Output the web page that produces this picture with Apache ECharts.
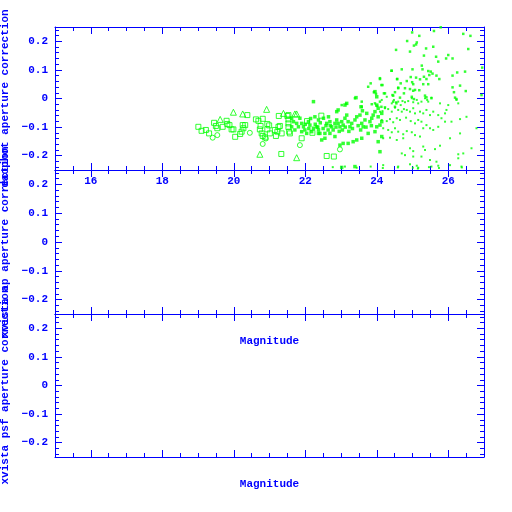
<!DOCTYPE html>
<html><head><meta charset="utf-8">
<script src="https://cdn.jsdelivr.net/npm/echarts@6/dist/echarts.min.js"></script>
<style>html,body{margin:0;padding:0;background:#fff}#c{width:512px;height:512px}</style>
</head><body><div id="c"></div>
<script>
// ---- tick values ----
const xMajorTicks = [16, 18, 20, 22, 24, 26];
const xMinorTicks = [15.5, 16.5, 17, 17.5, 18.5, 19, 19.5, 20.5, 21, 21.5, 22.5, 23, 23.5, 24.5, 25, 25.5, 26.5];
const yMajorTicks = [-0.2, -0.1, 0, 0.1, 0.2];
const yMinorTicks = [-0.24, -0.22, -0.18, -0.16, -0.14, -0.12, -0.08, -0.06, -0.04, -0.02, 0.02, 0.04, 0.06, 0.08, 0.12, 0.14, 0.16, 0.18, 0.22, 0.24];
const yNames = ['daophot aperture correction', 'xvista ap aperture correction', 'xvista psf aperture correction'];
const xName = 'Magnitude';

// ---- data: [magnitude, correction] ----
const openSquares = [[19.01,-0.099],[19.10,-0.113],[19.22,-0.110],[19.31,-0.122],[19.45,-0.085],[19.50,-0.096],[19.54,-0.104],[19.69,-0.099],[19.80,-0.078],[19.82,-0.089],[19.88,-0.093],[19.94,-0.108],[19.99,-0.108],[20.04,-0.134],[20.18,-0.124],[20.22,-0.116],[20.27,-0.104],[20.25,-0.093],[20.32,-0.093],[20.38,-0.058],[20.62,-0.073],[20.69,-0.078],[20.81,-0.071],[20.75,-0.096],[20.73,-0.108],[20.78,-0.122],[20.81,-0.131],[20.87,-0.136],[20.94,-0.089],[20.99,-0.094],[21.01,-0.122],[20.94,-0.108],[21.18,-0.131],[21.22,-0.116],[21.15,-0.110],[21.25,-0.099],[21.29,-0.096],[21.26,-0.061],[21.34,-0.122],[21.33,-0.194],[21.50,-0.061],[21.53,-0.073],[21.53,-0.087],[21.55,-0.116],[21.53,-0.058],[21.57,-0.122],[21.53,-0.100],[21.90,-0.139],[22.60,-0.201],[22.05,-0.079],[22.20,-0.120],[22.45,-0.060],[22.80,-0.203]];
const openTriangles = [[19.62,-0.073],[19.99,-0.048],[20.25,-0.054],[20.92,-0.038],[20.73,-0.195],[21.39,-0.052],[21.71,-0.054],[21.76,-0.054],[21.76,-0.207]];
const openCircles = [[19.41,-0.137],[19.54,-0.128],[20.81,-0.159],[21.85,-0.163],[22.97,-0.178],[20.45,-0.120],[20.90,-0.140]];
const midSquares = [[21.62,-0.069],[21.67,-0.081],[21.76,-0.087],[21.85,-0.069],[21.90,-0.087],[21.95,-0.099],[21.99,-0.110],[22.09,-0.081],[22.13,-0.093],[22.18,-0.116],[22.23,-0.104],[22.32,-0.099],[22.37,-0.110],[22.41,-0.122],[22.46,-0.145],[22.55,-0.139],[22.27,-0.064],[22.37,-0.075],[22.51,-0.069],[22.65,-0.064],[22.60,-0.087],[22.69,-0.081],[22.74,-0.099],[22.83,-0.087],[22.88,-0.075],[22.92,-0.087],[22.97,-0.099],[23.02,-0.081],[23.06,-0.093],[23.11,-0.069],[23.16,-0.058],[23.20,-0.081],[23.25,-0.099],[23.30,-0.087],[23.39,-0.075],[23.44,-0.064],[23.53,-0.058],[23.58,-0.087],[23.62,-0.099],[23.67,-0.075],[23.72,-0.052],[23.81,-0.081],[23.86,-0.069],[23.90,-0.058],[23.95,-0.046],[24.04,-0.064],[24.14,-0.052],[24.00,-0.099],[24.09,-0.093],[24.14,-0.081],[23.95,-0.116],[23.76,-0.122],[23.58,-0.139],[23.44,-0.145],[23.34,-0.151],[23.20,-0.157],[23.06,-0.157],[22.97,-0.163],[22.83,-0.133],[22.69,-0.122],[22.55,-0.122],[22.37,-0.122],[22.04,-0.122],[21.90,-0.116],[21.81,-0.099],[21.71,-0.110],[21.62,-0.099],[22.23,-0.011],[23.42,0.003],[23.11,-0.023],[23.16,-0.017],[22.92,-0.040],[22.88,-0.046],[23.56,-0.029],[23.60,-0.043],[24.00,-0.023],[24.04,-0.034],[23.95,0.024],[24.00,0.006],[24.04,-0.151],[24.14,-0.133],[24.09,-0.186],[23.02,-0.241],[23.39,-0.238],[22.00,-0.090],[22.10,-0.105],[22.15,-0.070],[22.28,-0.090],[22.35,-0.100],[22.42,-0.085],[22.50,-0.105],[22.58,-0.095],[22.64,-0.110],[22.70,-0.095],[22.78,-0.110],[22.86,-0.100],[22.95,-0.115],[23.04,-0.110],[23.12,-0.100],[23.22,-0.115],[23.32,-0.105],[23.48,-0.095],[23.55,-0.110],[23.70,-0.100],[23.85,-0.095]];
const faintSquares = [[24.99,0.231],[25.19,0.219],[25.60,0.236],[25.79,0.249],[26.42,0.226],[26.62,0.219],[24.85,0.201],[25.12,0.196],[25.10,0.189],[25.04,0.185],[24.54,0.170],[24.93,0.164],[25.38,0.175],[25.58,0.181],[25.32,0.150],[25.66,0.146],[26.00,0.152],[26.12,0.140],[25.94,0.140],[26.56,0.173],[25.72,0.129],[25.26,0.115],[24.42,0.097],[24.70,0.102],[25.00,0.102],[25.28,0.102],[25.44,0.096],[25.51,0.094],[25.56,0.087],[25.47,0.082],[25.67,0.080],[25.75,0.068],[26.12,0.080],[26.25,0.091],[26.47,0.094],[26.95,0.108],[24.09,0.071],[24.57,0.068],[24.84,0.061],[24.95,0.075],[25.10,0.073],[25.21,0.067],[25.32,0.076],[25.39,0.068],[24.16,0.047],[24.67,0.053],[24.99,0.057],[25.02,0.050],[25.30,0.050],[25.44,0.050],[24.60,0.038],[24.79,0.036],[24.93,0.033],[25.07,0.030],[25.19,0.029],[26.12,0.039],[26.33,0.045],[26.49,0.026],[26.16,0.022],[24.23,0.018],[24.51,0.022],[24.76,0.018],[25.02,0.027],[24.46,0.010],[24.65,0.003],[24.98,0.006],[25.04,-0.002],[25.35,0.010],[25.39,0.004],[25.53,0.001],[26.19,0.003],[26.23,-0.002],[26.93,0.012],[24.41,0.097],[24.09,0.068],[24.13,0.047],[23.83,0.053],[23.76,0.041],[24.57,0.068],[23.92,0.022],[23.98,0.016],[24.20,0.018],[24.60,0.036],[24.44,0.012],[23.39,0.001],[23.58,-0.011],[23.14,-0.019],[23.02,-0.023],[23.86,-0.020],[23.95,-0.017],[24.09,-0.011],[24.46,-0.011],[24.55,-0.017],[24.51,-0.029],[24.01,-0.026],[24.13,-0.029],[24.23,-0.031],[23.58,-0.029]];
const faintDots = [[24.14,-0.005],[24.28,0.006],[24.42,-0.017],[24.48,-0.005],[24.54,-0.013],[24.60,-0.011],[24.67,-0.023],[24.72,-0.009],[24.79,-0.013],[24.88,-0.009],[24.98,0.001],[25.02,-0.013],[25.12,-0.005],[25.16,-0.017],[25.25,-0.011],[25.35,0.001],[25.41,-0.005],[25.44,-0.011],[25.53,0.003],[25.77,-0.017],[26.00,-0.023],[25.95,-0.040],[26.23,-0.005],[26.28,-0.017],[25.91,-0.052],[25.81,-0.069],[25.72,-0.058],[26.33,-0.072],[26.51,-0.064],[26.09,-0.081],[25.91,-0.081],[24.09,-0.046],[24.16,-0.044],[24.23,-0.034],[24.32,-0.037],[24.42,-0.046],[24.51,-0.032],[24.60,-0.040],[24.70,-0.046],[24.76,-0.037],[24.84,-0.040],[24.93,-0.046],[25.02,-0.034],[25.07,-0.052],[25.21,-0.046],[25.30,-0.052],[25.39,-0.040],[25.49,-0.058],[25.58,-0.046],[24.14,-0.075],[24.28,-0.079],[24.37,-0.072],[24.46,-0.083],[24.56,-0.069],[24.65,-0.075],[24.82,-0.067],[24.95,-0.079],[25.07,-0.087],[25.16,-0.075],[25.25,-0.081],[25.39,-0.093],[25.49,-0.104],[25.30,-0.104],[25.58,-0.110],[25.72,-0.099],[24.18,-0.104],[24.32,-0.110],[24.42,-0.118],[24.51,-0.104],[24.60,-0.116],[24.74,-0.125],[24.84,-0.114],[24.98,-0.118],[25.07,-0.128],[25.21,-0.133],[24.18,-0.139],[24.37,-0.137],[24.56,-0.145],[24.74,-0.139],[24.93,-0.174],[25.02,-0.184],[25.30,-0.168],[25.35,-0.180],[25.63,-0.177],[25.77,-0.165],[26.05,-0.139],[26.33,-0.122],[26.65,-0.174],[26.79,-0.104],[26.42,-0.192],[26.28,-0.195],[26.28,-0.209],[25.67,-0.221],[25.49,-0.215],[25.25,-0.203],[25.02,-0.203],[24.79,-0.198],[24.70,-0.192],[24.18,-0.233],[24.60,-0.238],[24.93,-0.230],[25.12,-0.235],[25.16,-0.242],[25.53,-0.238],[25.72,-0.235],[26.05,-0.233],[26.37,-0.238],[22.77,-0.240],[23.11,-0.238],[23.44,-0.242],[23.83,-0.238],[24.17,-0.243],[24.59,-0.241],[25.01,-0.242],[25.15,-0.245],[25.46,-0.240],[25.74,-0.243],[26.38,-0.241]];

const C = '#0000ff', G = '#00ff00';
const FONT = '"Liberation Mono", "DejaVu Sans Mono", monospace';
const txt = {color: C, fontFamily: FONT, fontWeight: 'bold', fontSize: 11};
function fmt(v){ if (Math.abs(v) < 1e-9) return '0'; return (v < 0 ? '\u2212' : '') + String(Math.abs(v)); }

const grids = [
  {left: 55, top: 27, width: 429, height: 143, outerBoundsMode: 'none', containLabel: false},
  {left: 55, top: 170, width: 429, height: 144, outerBoundsMode: 'none', containLabel: false},
  {left: 55, top: 314, width: 429, height: 143, outerBoundsMode: 'none', containLabel: false}
];
const xAxis = [], yAxis = [];
grids.forEach((g, i) => {
  const bx = {type: 'value', gridIndex: i, min: 15, max: 27, splitLine: {show: false},
    axisLine: {show: false, onZero: false}, axisLabel: {show: false}, axisTick: {show: false}};
  const by = {type: 'value', gridIndex: i, min: -0.25, max: 0.25, splitLine: {show: false},
    axisLine: {show: false, onZero: false}, axisLabel: {show: false}, axisTick: {show: false}};
  const line = {show: true, onZero: false, lineStyle: {color: C, width: 1}};
  const maj = (vals) => ({show: true, inside: true, length: 7, customValues: vals, lineStyle: {color: C, width: 1}});
  const min = (vals) => ({show: true, inside: true, length: 4, customValues: vals, lineStyle: {color: C, width: 1}});
  xAxis.push(Object.assign({}, bx, {position: 'bottom', axisLine: line, axisTick: maj(xMajorTicks),
    axisLabel: Object.assign({show: i === 0, customValues: xMajorTicks, margin: 6}, txt),
    name: i > 0 ? xName : '', nameLocation: 'middle', nameGap: 22, nameTextStyle: txt}));
  xAxis.push(Object.assign({}, bx, {position: 'bottom', axisTick: min(xMinorTicks)}));
  xAxis.push(Object.assign({}, bx, {position: 'top', axisLine: line, axisTick: maj(xMajorTicks)}));
  xAxis.push(Object.assign({}, bx, {position: 'top', axisTick: min(xMinorTicks)}));
  yAxis.push(Object.assign({}, by, {position: 'left', axisLine: line, axisTick: maj(yMajorTicks),
    axisLabel: Object.assign({show: true, customValues: yMajorTicks, margin: 7, formatter: fmt}, txt),
    name: yNames[i], nameLocation: 'middle', nameGap: 41, nameTextStyle: txt}));
  yAxis.push(Object.assign({}, by, {position: 'left', axisTick: min(yMinorTicks)}));
  yAxis.push(Object.assign({}, by, {position: 'right', axisLine: line, axisTick: maj(yMajorTicks)}));
  yAxis.push(Object.assign({}, by, {position: 'right', axisTick: min(yMinorTicks)}));
});

const open = {color: 'rgba(0,0,0,0)', borderColor: G, borderWidth: 1};
const filled = {color: G, borderWidth: 0};
const sc = (data, symbol, size, style) => ({type: 'scatter', xAxisIndex: 0, yAxisIndex: 0, data, symbol, symbolSize: size,
  itemStyle: style, silent: true, animation: false});

const chart = echarts.init(document.getElementById('c'), null, {renderer: 'canvas'});
chart.setOption({
  animation: false,
  backgroundColor: '#fff',
  grid: grids,
  xAxis, yAxis,
  series: [
    sc(faintDots, 'rect', 2, filled),
    sc(faintSquares, 'rect', 2.5, filled),
    sc(midSquares, 'rect', 3.5, filled),
    sc(openSquares, 'rect', 5, open),
    sc(openTriangles, 'triangle', 6, open),
    sc(openCircles, 'circle', 5, open)
  ]
});
</script>
</body></html>
